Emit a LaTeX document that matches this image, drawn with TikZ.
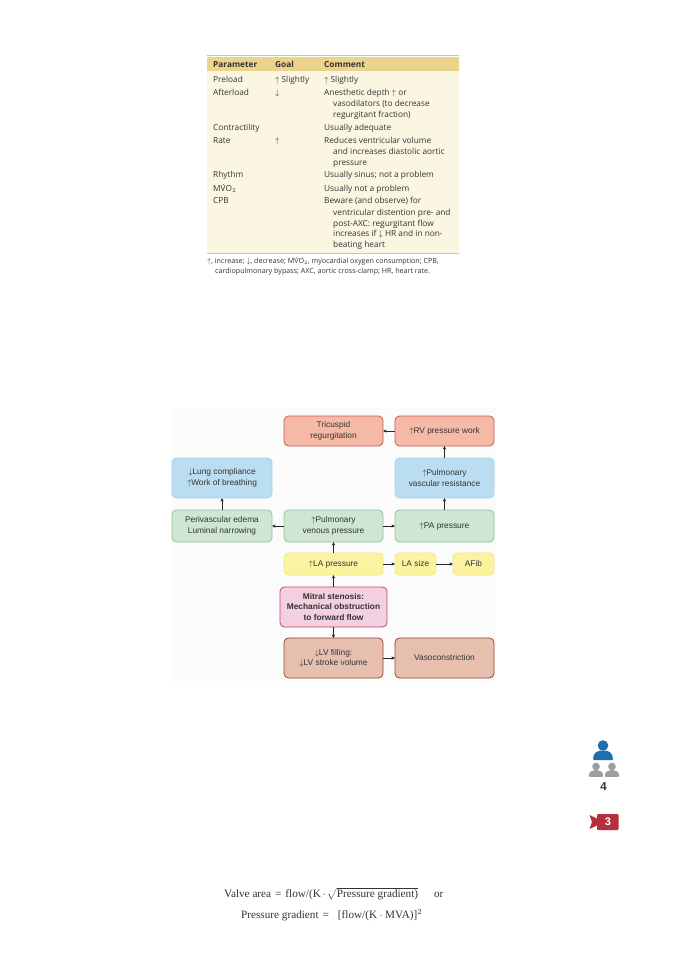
\documentclass[tikz,border=0pt]{standalone}
\usepackage{fontspec}
\setmainfont{Liberation Sans}
\newfontfamily\tabfont{Open Sans}
\newfontfamily\eqfont{Liberation Serif}
\usetikzlibrary{arrows.meta}
\definecolor{hdr}{HTML}{EBD38C}
\definecolor{tbody}{HTML}{FBF6E2}
\definecolor{tline}{HTML}{D9C884}
\definecolor{txt}{HTML}{333333}
\definecolor{redf}{HTML}{F6B9A5}\definecolor{redd}{HTML}{C8595A}
\definecolor{bluef}{HTML}{BBDDF1}\definecolor{blued}{HTML}{A9D2EA}
\definecolor{greenf}{HTML}{CFE6D2}\definecolor{greend}{HTML}{8FC49F}
\definecolor{yelf}{HTML}{FBF3A0}\definecolor{yeld}{HTML}{F2E87E}
\definecolor{pinkf}{HTML}{F3D0DF}\definecolor{pinkd}{HTML}{B8447E}
\definecolor{brf}{HTML}{E6BFAE}\definecolor{brd}{HTML}{94453A}
\definecolor{pblue}{HTML}{1F6FAE}
\definecolor{pgrey}{HTML}{9A9FA3}
\definecolor{camred}{HTML}{B5303C}
\tikzset{
 x=1pt,y=-1pt,
 fbox/.style={draw,rounded corners=4.5pt,line width=0.8pt,align=center,inner sep=0pt,outer sep=0pt,
   font=\fontsize{8.35}{10.4}\selectfont,text=txt},
 redbox/.style={fbox,fill=redf,draw=redd},
 bluebox/.style={fbox,fill=bluef,draw=blued},
 greenbox/.style={fbox,fill=greenf,draw=greend},
 yelbox/.style={fbox,fill=yelf,draw=yeld},
 pinkbox/.style={fbox,fill=pinkf,draw=pinkd},
 brbox/.style={fbox,fill=brf,draw=brd},
 link/.style={-{Stealth[length=3.5pt,width=3.4pt]},line width=1pt,draw=black!85},
 cell/.style={anchor=base west,inner sep=0pt,text=txt,font=\tabfont\fontsize{8.3}{9}\selectfont},
 head/.style={cell,font=\tabfont\bfseries\fontsize{8.3}{9}\selectfont},
 foot/.style={cell,font=\tabfont\fontsize{7.15}{8}\selectfont},
 eqn/.style={anchor=base west,inner sep=0pt,text=txt,font=\eqfont\fontsize{11.2}{13}\selectfont},
}
\newcommand{\bx}[7]{\node[#1,minimum width={(#4-#3)*1pt},minimum height={(#6-#5)*1pt}] (#2) at ({(#3+#4)/2},{(#5+#6)/2}) {#7};}
\newcommand{\up}{$\uparrow$}
\newcommand{\dn}{$\downarrow$}
\newcommand{\Vdot}{\rlap{\smash{\raisebox{0.62em}{\hspace{0.2em}.}}}V}
\newcommand{\person}[4]{% x, head-y, scale, colour
 \fill[#4] (#1,#2) circle ({5.3*#3});
 \fill[#4,rounded corners=1pt] ({#1-10*#3},{#2+14.5*#3}) .. controls ({#1-10*#3},{#2+7*#3}) and ({#1-5*#3},{#2+5*#3}) .. (#1,{#2+5*#3})
   .. controls ({#1+5*#3},{#2+5*#3}) and ({#1+10*#3},{#2+7*#3}) .. ({#1+10*#3},{#2+14.5*#3}) -- cycle;}
\begin{document}
\begin{tikzpicture}
\useasboundingbox (0,0) rectangle (678,960);
\fill[white] (0,0) rectangle (678,960);
% table
\fill[tbody] (207,57) rectangle (459,253);
\fill[hdr] (207,57) rectangle (459,71);
\draw[tline,line width=0.7pt] (207,55.5) -- (459,55.5);
\draw[tline,line width=0.8pt] (207,253.5) -- (459,253.5);
\node[head] (h1) at (213,68) {Parameter};
\node[head] (h2) at (275,68) {Goal};
\node[head] (h3) at (324,68) {Comment};
\node[cell] (a1) at (213,83) {Preload};
\node[cell] (a2) at (275,83) {\up\ Slightly};
\node[cell] (a3) at (324,83) {\up\ Slightly};
\node[cell] (b1) at (213,96) {Afterload};
\node[cell] (b2) at (275,96) {\dn};
\node[cell] (b3) at (324,96) {Anesthetic depth \up\ or};
\node[cell] (b4) at (333,107) {vasodilators (to decrease};
\node[cell] (b5) at (333,118) {regurgitant fraction)};
\node[cell] (c1) at (213,131) {Contractility};
\node[cell] (c3) at (324,131) {Usually adequate};
\node[cell] (d1) at (213,144) {Rate};
\node[cell] (d2) at (275,144) {\up};
\node[cell] (d3) at (324,144) {Reduces ventricular volume};
\node[cell] (d4) at (333,155) {and increases diastolic aortic};
\node[cell] (d5) at (333,165) {pressure};
\node[cell] (e1) at (213,178) {Rhythm};
\node[cell] (e3) at (324,178) {Usually sinus; not a problem};
\node[cell] (f1) at (213,191) {M\Vdot O$_2$};
\node[cell] (f3) at (324,191) {Usually not a problem};
\node[cell] (g1) at (213,204) {CPB};
\node[cell] (g3) at (324,204) {Beware (and observe) for};
\node[cell] (g4) at (333,215) {ventricular distention pre- and};
\node[cell] (g5) at (333,226) {post-AXC: regurgitant flow};
\node[cell] (g6) at (333,236) {increases if \dn\ HR and in non-};
\node[cell] (g7) at (333,247) {beating heart};
\node[foot] (n1) at (207,263) {\up, increase; \dn, decrease; M\Vdot O$_2$, myocardial oxygen consumption; CPB,};
\node[foot] (n2) at (215,273) {cardiopulmonary bypass; AXC, aortic cross-clamp; HR, heart rate.};
% flow diagram
\fill[black!1.5] (171,408) rectangle (496,681);
\bx{redbox}{tr}{284}{383}{416}{446}{Tricuspid\\regurgitation}
\bx{redbox}{rv}{395}{494}{416}{446}{\up RV pressure work}
\bx{bluebox}{lung}{172}{272}{458}{498}{\dn Lung compliance\\\up Work of breathing}
\bx{bluebox}{pvr}{395}{494}{458}{498}{\up Pulmonary\\vascular resistance}
\bx{greenbox}{edema}{172}{272}{510}{542}{Perivascular edema\\Luminal narrowing}
\bx{greenbox}{pvp}{284}{383}{510}{542}{\up Pulmonary\\venous pressure}
\bx{greenbox}{pa}{395}{494}{510}{542}{\up PA pressure}
\bx{yelbox}{la}{284}{383}{553}{575}{\up LA pressure}
\bx{yelbox}{lasize}{395}{436}{553}{575}{LA size}
\bx{yelbox}{afib}{453}{494}{553}{575}{AFib}
\bx{pinkbox}{ms}{280}{387}{587}{627}{\textbf{Mitral stenosis:}\\\textbf{Mechanical obstruction}\\\textbf{to forward flow}}
\bx{brbox}{lv}{284}{383}{638}{678}{\dn LV filling:\\\dn LV stroke volume}
\bx{brbox}{vaso}{395}{494}{638}{678}{Vasoconstriction}
\draw[link] (rv) -- (tr);
\draw[link] (pvr) -- (rv);
\draw[link] (pa) -- (pvr);
\draw[link] (edema) -- (lung);
\draw[link] (pvp) -- (edema);
\draw[link] (pvp) -- (pa);
\draw[link] (la) -- (pvp);
\draw[link] (la) -- (lasize);
\draw[link] (lasize) -- (afib);
\draw[link] (ms) -- (la);
\draw[link] (ms) -- (lv);
\draw[link] (lv) -- (vaso);
% icons
\person{603}{745.5}{1.0}{pblue}
\person{596}{766.5}{0.72}{pgrey}
\person{612}{766.5}{0.72}{pgrey}
\node[inner sep=0pt,text=black!80,font=\bfseries\fontsize{11.5}{13}\selectfont] (four) at (603.5,787) {4};
\fill[camred,rounded corners=1pt] (597,814) rectangle (618.5,830);
\fill[camred] (589.5,815) -- (598,819) -- (598,825) -- (589.5,829) -- (592,822) -- cycle;
\node[inner sep=0pt,text=white,font=\bfseries\fontsize{11}{13}\selectfont] (three) at (608,822) {3};
% equations
\node[eqn] (eq1) at (224,897) {Valve area\hspace{4pt}=\hspace{4pt}flow/(K\hspace{2pt}$\cdot$\hspace{1pt}$\sqrt{\hbox{\eqfont\fontsize{11.2}{13}\selectfont Pressure gradient)}}$\hspace{16pt}or};
\node[eqn] (eq2) at (241,918) {Pressure gradient\hspace{4pt}=\hspace{9pt}[flow/(K\hspace{2.5pt}$\cdot$\hspace{2.5pt}MVA)]$^2$};
\end{tikzpicture}
\end{document}
